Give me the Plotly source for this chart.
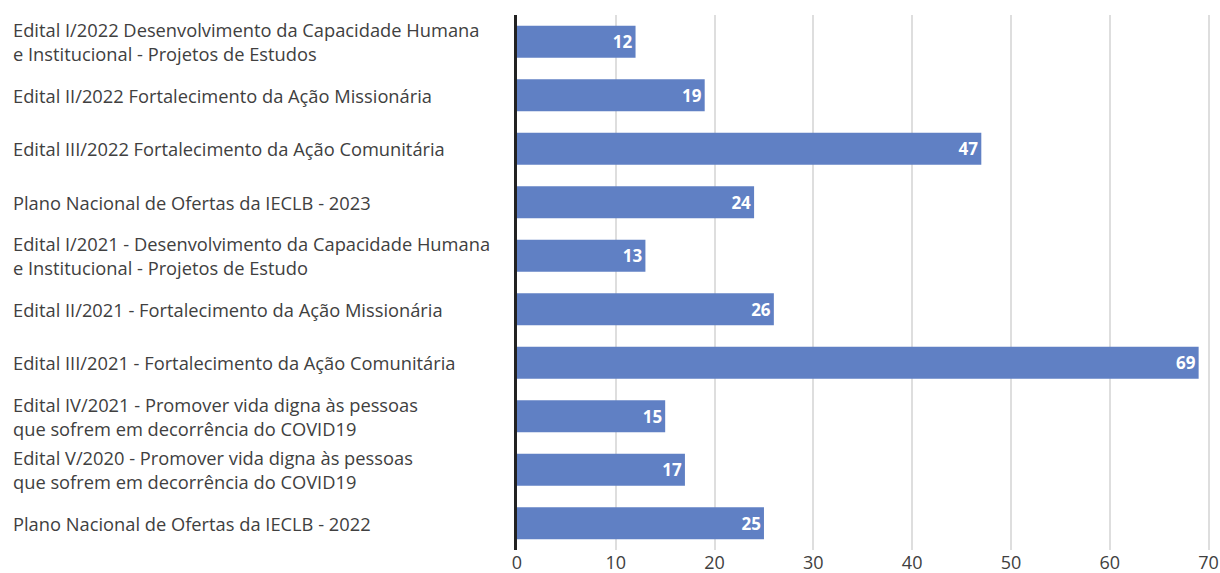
import plotly.graph_objects as go

categories = [
    "Edital I/2022 Desenvolvimento da Capacidade Humana<br>e Institucional - Projetos de Estudos",
    "Edital II/2022 Fortalecimento da Ação Missionária",
    "Edital III/2022 Fortalecimento da Ação Comunitária",
    "Plano Nacional de Ofertas da IECLB - 2023",
    "Edital I/2021 - Desenvolvimento da Capacidade Humana<br>e Institucional - Projetos de Estudo",
    "Edital II/2021 - Fortalecimento da Ação Missionária",
    "Edital III/2021 - Fortalecimento da Ação Comunitária",
    "Edital IV/2021 - Promover vida digna às pessoas<br>que sofrem em decorrência do COVID19",
    "Edital V/2020 - Promover vida digna às pessoas<br>que sofrem em decorrência do COVID19",
    "Plano Nacional de Ofertas da IECLB - 2022",
]
values = [12, 19, 47, 24, 13, 26, 69, 15, 17, 25]
x_ticks = [0, 10, 20, 30, 40, 50, 60, 70]

FONT = "Open Sans"
TEXT_COLOR = "#404040"
BAR_COLOR = "#6080c4"

fig = go.Figure(
    go.Bar(
        x=values,
        y=list(range(len(categories))),
        orientation="h",
        marker=dict(color=BAR_COLOR, line=dict(width=0)),
        width=0.6,
        text=[str(v) for v in values],
        textposition="inside",
        insidetextanchor="end",
        textangle=0,
        textfont=dict(family=FONT, size=17, color="white", weight="bold"),
        hoverinfo="skip",
    )
)

# category labels, left-aligned at the far left of the figure
for i, label in enumerate(categories):
    fig.add_annotation(
        x=-505 / 693, xref="paper", xanchor="left",
        y=i, yref="y", yanchor="middle",
        borderpad=0, text=label, showarrow=False, align="left",
        font=dict(family=FONT, size=18.3, color=TEXT_COLOR),
    )

fig.update_layout(
    width=1220, height=573,
    margin=dict(l=517, r=10, t=15, b=23, autoexpand=False),
    paper_bgcolor="white", plot_bgcolor="white",
    showlegend=False,
    bargap=0.4,
    xaxis=dict(
        range=[0, 70.15], tickvals=x_ticks, automargin=False,
        showgrid=True, gridcolor="#dedede", gridwidth=2,
        zeroline=False, showline=False, ticks="",
        tickfont=dict(family=FONT, size=18, color=TEXT_COLOR),
        ticklabelstandoff=0,
    ),
    yaxis=dict(
        range=[len(categories) - 0.5, -0.5], automargin=False,
        showticklabels=False, showgrid=False, zeroline=False,
        showline=True, linecolor="#222222", linewidth=3, ticks="",
    ),
)

fig.write_html("out.html")
